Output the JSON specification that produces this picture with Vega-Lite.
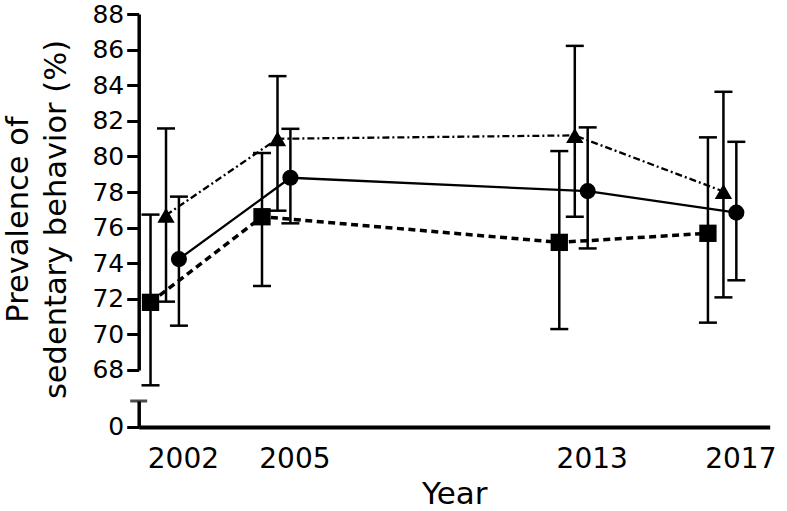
{
  "$schema": "https://vega.github.io/schema/vega-lite/v6.json",
  "padding": {"left": 3.7, "top": 2, "right": 0, "bottom": 0},
  "background": "white",
  "bounds": "flush",
  "spacing": 31,
  "config": {
    "view": {"stroke": null},
    "font": "DejaVu Sans",
    "axis": {"domainColor": "black", "tickColor": "black", "labelColor": "black", "titleColor": "black", "grid": false, "titleFontWeight": "normal", "labelFont": "DejaVu Sans", "titleFont": "DejaVu Sans"}
  },
  "datasets": {
    "prev": [
      {"year": 2002, "group": "Group A", "mean": 71.80, "lo": 67.14, "hi": 76.73},
      {"year": 2005, "group": "Group A", "mean": 76.61, "lo": 72.72, "hi": 80.19},
      {"year": 2013, "group": "Group A", "mean": 75.17, "lo": 70.30, "hi": 80.30},
      {"year": 2017, "group": "Group A", "mean": 75.68, "lo": 70.66, "hi": 81.07},
      {"year": 2002, "group": "Group B", "mean": 76.70, "lo": 71.84, "hi": 81.57},
      {"year": 2005, "group": "Group B", "mean": 80.99, "lo": 76.95, "hi": 84.51},
      {"year": 2013, "group": "Group B", "mean": 81.18, "lo": 76.61, "hi": 86.21},
      {"year": 2017, "group": "Group B", "mean": 78.03, "lo": 72.08, "hi": 83.63},
      {"year": 2002, "group": "Group C", "mean": 74.23, "lo": 70.49, "hi": 77.74},
      {"year": 2005, "group": "Group C", "mean": 78.80, "lo": 76.24, "hi": 81.55},
      {"year": 2013, "group": "Group C", "mean": 78.05, "lo": 74.83, "hi": 81.63},
      {"year": 2017, "group": "Group C", "mean": 76.84, "lo": 73.04, "hi": 80.82}
    ]
  },
  "vconcat": [
    {
      "width": 631,
      "height": 356,
      "data": {"name": "prev"},
      "encoding": {
        "x": {"field": "year", "type": "quantitative", "scale": {"domain": [2000.81, 2017.79], "nice": false, "zero": false}, "axis": null}
      },
      "layer": [
        {
          "transform": [{"filter": "datum.group === 'Group A'"}],
          "layer": [
            {"mark": {"type": "line", "color": "black", "strokeWidth": 3.5, "strokeDash": [7, 4.5], "xOffset": -32.4},
             "encoding": {"y": {"field": "mean", "type": "quantitative", "scale": {"domain": [68, 88], "nice": false, "zero": false},
               "axis": {"values": [68, 70, 72, 74, 76, 78, 80, 82, 84, 86, 88], "labelOverlap": false, "tickSize": 12, "tickWidth": 3, "domainWidth": 3.5, "labelFontSize": 25, "labelPadding": 3, "title": ["Prevalence of", "sedentary behavior  (%)"], "titleFontSize": 30.5, "titleLineHeight": 38, "titlePadding": 20, "titleY": 205}}}},
            {"mark": {"type": "rule", "color": "black", "strokeWidth": 2.5, "xOffset": -32.4},
             "encoding": {"y": {"field": "lo", "type": "quantitative",
               "axis": {"values": [68, 70, 72, 74, 76, 78, 80, 82, 84, 86, 88], "labelOverlap": false, "tickSize": 12, "tickWidth": 3, "domainWidth": 3.5, "labelFontSize": 25, "labelPadding": 3, "title": ["Prevalence of", "sedentary behavior  (%)"], "titleFontSize": 30.5, "titleLineHeight": 38, "titlePadding": 20, "titleY": 205}}, "y2": {"field": "hi"}}},
            {"mark": {"type": "tick", "color": "black", "orient": "horizontal", "size": 18, "thickness": 2.5, "opacity": 1, "xOffset": -32.4},
             "encoding": {"y": {"field": "lo", "type": "quantitative",
               "axis": {"values": [68, 70, 72, 74, 76, 78, 80, 82, 84, 86, 88], "labelOverlap": false, "tickSize": 12, "tickWidth": 3, "domainWidth": 3.5, "labelFontSize": 25, "labelPadding": 3, "title": ["Prevalence of", "sedentary behavior  (%)"], "titleFontSize": 30.5, "titleLineHeight": 38, "titlePadding": 20, "titleY": 205}}}},
            {"mark": {"type": "tick", "color": "black", "orient": "horizontal", "size": 18, "thickness": 2.5, "opacity": 1, "xOffset": -32.4},
             "encoding": {"y": {"field": "hi", "type": "quantitative",
               "axis": {"values": [68, 70, 72, 74, 76, 78, 80, 82, 84, 86, 88], "labelOverlap": false, "tickSize": 12, "tickWidth": 3, "domainWidth": 3.5, "labelFontSize": 25, "labelPadding": 3, "title": ["Prevalence of", "sedentary behavior  (%)"], "titleFontSize": 30.5, "titleLineHeight": 38, "titlePadding": 20, "titleY": 205}}}},
            {"mark": {"type": "point", "shape": "square", "size": 300, "filled": true, "color": "black", "opacity": 1, "xOffset": -32.4},
             "encoding": {"y": {"field": "mean", "type": "quantitative",
               "axis": {"values": [68, 70, 72, 74, 76, 78, 80, 82, 84, 86, 88], "labelOverlap": false, "tickSize": 12, "tickWidth": 3, "domainWidth": 3.5, "labelFontSize": 25, "labelPadding": 3, "title": ["Prevalence of", "sedentary behavior  (%)"], "titleFontSize": 30.5, "titleLineHeight": 38, "titlePadding": 20, "titleY": 205}}}}
          ]
        },
        {
          "transform": [{"filter": "datum.group === 'Group B'"}],
          "layer": [
            {"mark": {"type": "line", "color": "black", "strokeWidth": 2.3, "strokeDash": [7, 3, 2, 3], "xOffset": -16.9},
             "encoding": {"y": {"field": "mean", "type": "quantitative",
               "axis": {"values": [68, 70, 72, 74, 76, 78, 80, 82, 84, 86, 88], "labelOverlap": false, "tickSize": 12, "tickWidth": 3, "domainWidth": 3.5, "labelFontSize": 25, "labelPadding": 3, "title": ["Prevalence of", "sedentary behavior  (%)"], "titleFontSize": 30.5, "titleLineHeight": 38, "titlePadding": 20, "titleY": 205}}}},
            {"mark": {"type": "rule", "color": "black", "strokeWidth": 2.5, "xOffset": -16.9},
             "encoding": {"y": {"field": "lo", "type": "quantitative",
               "axis": {"values": [68, 70, 72, 74, 76, 78, 80, 82, 84, 86, 88], "labelOverlap": false, "tickSize": 12, "tickWidth": 3, "domainWidth": 3.5, "labelFontSize": 25, "labelPadding": 3, "title": ["Prevalence of", "sedentary behavior  (%)"], "titleFontSize": 30.5, "titleLineHeight": 38, "titlePadding": 20, "titleY": 205}}, "y2": {"field": "hi"}}},
            {"mark": {"type": "tick", "color": "black", "orient": "horizontal", "size": 18, "thickness": 2.5, "opacity": 1, "xOffset": -16.9},
             "encoding": {"y": {"field": "lo", "type": "quantitative",
               "axis": {"values": [68, 70, 72, 74, 76, 78, 80, 82, 84, 86, 88], "labelOverlap": false, "tickSize": 12, "tickWidth": 3, "domainWidth": 3.5, "labelFontSize": 25, "labelPadding": 3, "title": ["Prevalence of", "sedentary behavior  (%)"], "titleFontSize": 30.5, "titleLineHeight": 38, "titlePadding": 20, "titleY": 205}}}},
            {"mark": {"type": "tick", "color": "black", "orient": "horizontal", "size": 18, "thickness": 2.5, "opacity": 1, "xOffset": -16.9},
             "encoding": {"y": {"field": "hi", "type": "quantitative",
               "axis": {"values": [68, 70, 72, 74, 76, 78, 80, 82, 84, 86, 88], "labelOverlap": false, "tickSize": 12, "tickWidth": 3, "domainWidth": 3.5, "labelFontSize": 25, "labelPadding": 3, "title": ["Prevalence of", "sedentary behavior  (%)"], "titleFontSize": 30.5, "titleLineHeight": 38, "titlePadding": 20, "titleY": 205}}}},
            {"mark": {"type": "point", "shape": "triangle-up", "size": 300, "filled": true, "color": "black", "opacity": 1, "xOffset": -16.9},
             "encoding": {"y": {"field": "mean", "type": "quantitative",
               "axis": {"values": [68, 70, 72, 74, 76, 78, 80, 82, 84, 86, 88], "labelOverlap": false, "tickSize": 12, "tickWidth": 3, "domainWidth": 3.5, "labelFontSize": 25, "labelPadding": 3, "title": ["Prevalence of", "sedentary behavior  (%)"], "titleFontSize": 30.5, "titleLineHeight": 38, "titlePadding": 20, "titleY": 205}}}}
          ]
        },
        {
          "transform": [{"filter": "datum.group === 'Group C'"}],
          "layer": [
            {"mark": {"type": "line", "color": "black", "strokeWidth": 2.3, "xOffset": -4},
             "encoding": {"y": {"field": "mean", "type": "quantitative",
               "axis": {"values": [68, 70, 72, 74, 76, 78, 80, 82, 84, 86, 88], "labelOverlap": false, "tickSize": 12, "tickWidth": 3, "domainWidth": 3.5, "labelFontSize": 25, "labelPadding": 3, "title": ["Prevalence of", "sedentary behavior  (%)"], "titleFontSize": 30.5, "titleLineHeight": 38, "titlePadding": 20, "titleY": 205}}}},
            {"mark": {"type": "rule", "color": "black", "strokeWidth": 2.5, "xOffset": -4},
             "encoding": {"y": {"field": "lo", "type": "quantitative",
               "axis": {"values": [68, 70, 72, 74, 76, 78, 80, 82, 84, 86, 88], "labelOverlap": false, "tickSize": 12, "tickWidth": 3, "domainWidth": 3.5, "labelFontSize": 25, "labelPadding": 3, "title": ["Prevalence of", "sedentary behavior  (%)"], "titleFontSize": 30.5, "titleLineHeight": 38, "titlePadding": 20, "titleY": 205}}, "y2": {"field": "hi"}}},
            {"mark": {"type": "tick", "color": "black", "orient": "horizontal", "size": 18, "thickness": 2.5, "opacity": 1, "xOffset": -4},
             "encoding": {"y": {"field": "lo", "type": "quantitative",
               "axis": {"values": [68, 70, 72, 74, 76, 78, 80, 82, 84, 86, 88], "labelOverlap": false, "tickSize": 12, "tickWidth": 3, "domainWidth": 3.5, "labelFontSize": 25, "labelPadding": 3, "title": ["Prevalence of", "sedentary behavior  (%)"], "titleFontSize": 30.5, "titleLineHeight": 38, "titlePadding": 20, "titleY": 205}}}},
            {"mark": {"type": "tick", "color": "black", "orient": "horizontal", "size": 18, "thickness": 2.5, "opacity": 1, "xOffset": -4},
             "encoding": {"y": {"field": "hi", "type": "quantitative",
               "axis": {"values": [68, 70, 72, 74, 76, 78, 80, 82, 84, 86, 88], "labelOverlap": false, "tickSize": 12, "tickWidth": 3, "domainWidth": 3.5, "labelFontSize": 25, "labelPadding": 3, "title": ["Prevalence of", "sedentary behavior  (%)"], "titleFontSize": 30.5, "titleLineHeight": 38, "titlePadding": 20, "titleY": 205}}}},
            {"mark": {"type": "point", "shape": "circle", "size": 260, "filled": true, "color": "black", "opacity": 1, "xOffset": -4},
             "encoding": {"y": {"field": "mean", "type": "quantitative",
               "axis": {"values": [68, 70, 72, 74, 76, 78, 80, 82, 84, 86, 88], "labelOverlap": false, "tickSize": 12, "tickWidth": 3, "domainWidth": 3.5, "labelFontSize": 25, "labelPadding": 3, "title": ["Prevalence of", "sedentary behavior  (%)"], "titleFontSize": 30.5, "titleLineHeight": 38, "titlePadding": 20, "titleY": 205}}}}
          ]
        }
      ]
    },
    {
      "width": 631,
      "height": 26,
      "data": {"values": [{"axis_break": 1}]},
      "mark": {"type": "tick", "color": "black", "orient": "horizontal", "size": 17, "thickness": 3},
      "encoding": {
        "x": {
          "datum": 2000.81, "type": "quantitative",
          "scale": {"domain": [2000.81, 2017.79], "nice": false, "zero": false},
          "axis": {
            "values": [2002, 2005, 2013, 2017], "format": "d",
            "ticks": false, "tickSize": 0, "domainWidth": 4,
            "labelFontSize": 28, "labelPadding": 19, "labelFlush": false, "labelOverlap": false,
            "title": "Year", "titleFontSize": 31, "titlePadding": 6
          }
        },
        "y": {
          "field": "axis_break", "type": "quantitative",
          "scale": {"domain": [0, 1], "nice": false, "zero": false},
          "axis": {"values": [0], "tickSize": 12, "tickWidth": 3, "domainWidth": 3.5, "labelFontSize": 25, "labelPadding": 3, "title": null}
        }
      }
    }
  ]
}
